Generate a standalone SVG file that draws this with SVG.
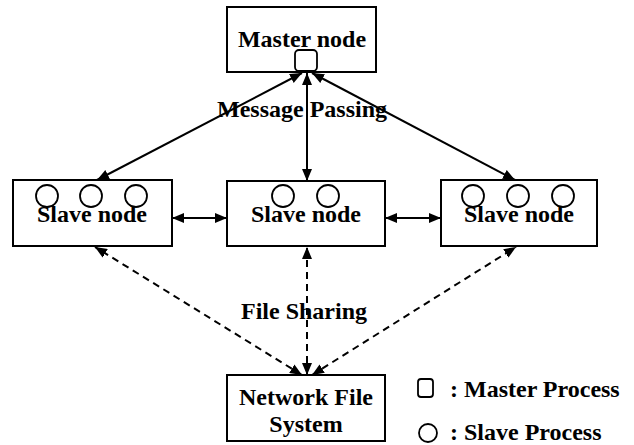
<svg xmlns="http://www.w3.org/2000/svg" width="634" height="445" viewBox="0 0 634 445">
<defs>
<marker id="ah" viewBox="0 0 12 10" refX="12" refY="5" markerWidth="12" markerHeight="10" markerUnits="userSpaceOnUse" orient="auto-start-reverse">
<path d="M0,0 L12,5 L0,10 Z" fill="#000"/>
</marker>
<style>
.box{fill:#fff;stroke:#000;stroke-width:2}
.t{font-family:"Liberation Serif","Times New Roman",serif;font-weight:bold;font-size:24px;fill:#000}
.c{text-anchor:middle}
.proc{fill:none;stroke:#000;stroke-width:1.8}
.ln{stroke:#000;stroke-width:2;fill:none;marker-start:url(#ah);marker-end:url(#ah)}
.dash{stroke-dasharray:7 5}
</style>
</defs>
<rect width="634" height="445" fill="#fff"/>
<g id="master">
<rect class="box" x="227" y="7" width="149" height="65"/>
<text class="t c" x="302" y="47">Master node</text>
<rect class="proc" x="295" y="50" width="22" height="21" rx="4"/>
</g>
<g id="slave-left">
<rect class="box" x="13" y="180" width="159" height="66"/>
<circle class="proc" cx="47" cy="196" r="11"/>
<circle class="proc" cx="91" cy="196" r="11"/>
<circle class="proc" cx="136" cy="196" r="11"/>
<text class="t c" x="92" y="222">Slave node</text>
</g>
<g id="slave-middle">
<rect class="box" x="227" y="181" width="158" height="65"/>
<circle class="proc" cx="283" cy="196" r="11"/>
<circle class="proc" cx="328" cy="196" r="11"/>
<text class="t c" x="306" y="222">Slave node</text>
</g>
<g id="slave-right">
<rect class="box" x="441" y="180" width="156" height="66"/>
<circle class="proc" cx="473" cy="196" r="11"/>
<circle class="proc" cx="518" cy="196" r="11"/>
<circle class="proc" cx="563" cy="196" r="11"/>
<text class="t c" x="519" y="222">Slave node</text>
</g>
<g id="nfs">
<rect class="box" x="227" y="375" width="158" height="66"/>
<text class="t c" x="306" y="405">Network File</text>
<text class="t c" x="306" y="432">System</text>
</g>
<g id="connectors">
<line class="ln" x1="97" y1="180" x2="302" y2="73"/>
<line class="ln" x1="307" y1="181" x2="307" y2="73"/>
<line class="ln" x1="515" y1="180" x2="312" y2="73"/>
<line class="ln" x1="172" y1="218" x2="227" y2="218"/>
<line class="ln" x1="385" y1="218" x2="441" y2="218"/>
<line class="ln dash" x1="302" y1="375" x2="95" y2="247"/>
<line class="ln dash" x1="307" y1="375" x2="307" y2="247"/>
<line class="ln dash" x1="312" y1="375" x2="516" y2="247"/>
</g>
<g id="labels">
<text class="t c" x="302" y="117">Message Passing</text>
<text class="t c" x="304" y="319">File Sharing</text>
</g>
<g id="legend">
<rect class="proc" x="418" y="379" width="15" height="18" rx="3"/>
<text class="t" x="450" y="397">: Master Process</text>
<circle class="proc" cx="428" cy="433" r="9"/>
<text class="t" x="450" y="440">: Slave Process</text>
</g>
</svg>
